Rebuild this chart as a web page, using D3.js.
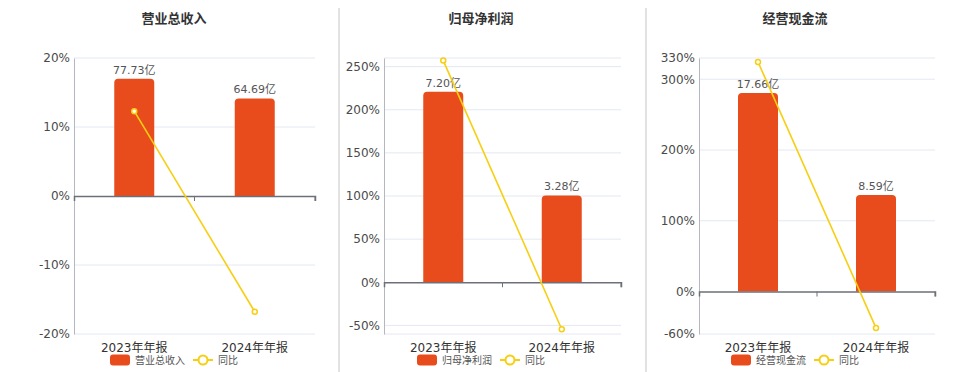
<!DOCTYPE html>
<html>
<head>
  <meta charset="utf-8">
  <script src="https://d3js.org/d3.v7.min.js"></script>
  <style>
    body { margin: 0; background: #fff; }
    text { font-family: "DejaVu Sans", "Noto Sans CJK SC", sans-serif; }
  </style>
</head>
<body>
  <script>
    // Data
    const categories = ["2023年年报", "2024年年报"];
    const titles = ["营业总收入", "归母净利润", "经营现金流"];
    const revenue = [77.73, 64.69];
    const netProfit = [7.20, 3.28];
    const cashFlow = [17.66, 8.59];
    const revenueYoy = [12.3, -16.78];
    const netProfitYoy = [257, -54.44];
    const cashFlowYoy = [324.5, -51.36];
    const revenueTicks = [-20, -10, 0, 10, 20];
    const netProfitTicks = [-50, 0, 50, 100, 150, 200, 250];
    const cashFlowTicks = [-60, 0, 100, 200, 300, 330];
    const revenueRange = [-20, 20];
    const netProfitRange = [-60, 260];
    const cashFlowRange = [-60, 330];

    const w = 960;
    const h = 372;
    const barColor = "#e84c1d";
    const lineColor = "#f7cf12";

    const panels = [
      { title: titles[0], bars: revenue, yoy: revenueYoy, ticks: revenueTicks, range: revenueRange, cx: 174, x0: 74, x1: 315 },
      { title: titles[1], bars: netProfit, yoy: netProfitYoy, ticks: netProfitTicks, range: netProfitRange, cx: 481, x0: 384, x1: 621 },
      { title: titles[2], bars: cashFlow, yoy: cashFlowYoy, ticks: cashFlowTicks, range: cashFlowRange, cx: 795, x0: 699, x1: 935 }
    ];
    const plotTop = 58, plotBottom = 334;

    const svg = d3.select("body")
      .append("svg")
      .attr("width", w)
      .attr("height", h);

    // separators between panels
    [339, 646].forEach(x => {
      svg.append("line")
        .attr("x1", x).attr("x2", x)
        .attr("y1", 8).attr("y2", h)
        .attr("stroke", "#cfcfcf")
        .attr("stroke-width", 1.2);
    });

    // rounded-top bar path
    function barPath(x, y, bw, bh, r) {
      r = Math.min(r, bh);
      return `M${x},${y + bh}V${y + r}Q${x},${y} ${x + r},${y}H${x + bw - r}Q${x + bw},${y} ${x + bw},${y + r}V${y + bh}Z`;
    }

    panels.forEach(p => {
      const g = svg.append("g");

      const xScale = d3.scaleBand()
        .domain(categories)
        .range([p.x0, p.x1]);

      const yScale = d3.scaleLinear()
        .domain(p.range)
        .range([plotBottom, plotTop]);

      // bar axis shares zero with the percent axis, tallest bar at 85%
      const barMax = d3.max(p.bars) / 0.85;
      const barScale = d3.scaleLinear()
        .domain([0, barMax])
        .range([yScale(0), plotTop]);

      // title
      g.append("text")
        .attr("x", p.cx)
        .attr("y", 23)
        .attr("text-anchor", "middle")
        .attr("font-size", 13)
        .attr("font-weight", "bold")
        .attr("fill", "#333")
        .text(p.title);

      // grid lines
      const gridVals = Array.from(new Set(p.ticks.concat(p.range)));
      g.selectAll(".grid")
        .data(gridVals.filter(d => d !== 0))
        .enter()
        .append("line")
        .attr("x1", p.x0).attr("x2", p.x1)
        .attr("y1", d => yScale(d)).attr("y2", d => yScale(d))
        .attr("stroke", "#e3e8f2")
        .attr("stroke-width", 1);

      // y axis
      const yAxis = d3.axisLeft(yScale)
        .tickValues(p.ticks)
        .tickFormat(d => d + "%")
        .tickSize(0)
        .tickPadding(4);
      const ya = g.append("g")
        .attr("transform", "translate(" + p.x0 + ",0)")
        .call(yAxis);
      ya.select(".domain").attr("stroke", "#b4b7bf").attr("stroke-width", 1);
      ya.selectAll("text")
        .attr("font-size", 12)
        .attr("fill", "#4a4a4a")
        .style("font-family", "DejaVu Sans, sans-serif");

      // bars
      g.selectAll(".bar")
        .data(p.bars)
        .enter()
        .append("path")
        .attr("class", "bar")
        .attr("d", (d, i) => {
          const bx = xScale(categories[i]) + xScale.bandwidth() / 2 - 20;
          const by = barScale(d);
          return barPath(bx, by, 40, barScale(0) - by, 4);
        })
        .attr("fill", barColor);

      // bar labels
      g.selectAll(".blabel")
        .data(p.bars)
        .enter()
        .append("text")
        .attr("x", (d, i) => xScale(categories[i]) + xScale.bandwidth() / 2)
        .attr("y", d => barScale(d) - 5)
        .attr("text-anchor", "middle")
        .attr("font-size", 11)
        .attr("fill", "#555")
        .text(d => d.toFixed(2) + "亿");

      // x axis at zero
      const xAxis = d3.axisBottom(xScale)
        .tickSize(5)
        .tickFormat("");
      const xa = g.append("g")
        .attr("transform", "translate(0," + yScale(0) + ")")
        .call(xAxis);
      xa.select(".domain").attr("stroke", "#6e7079").attr("stroke-width", 1.5);
      xa.selectAll(".tick").remove();
      // boundary ticks
      const bounds = [p.x0 + xScale.step(), p.x1];
      xa.selectAll(".btick")
        .data(bounds)
        .enter()
        .append("line")
        .attr("x1", d => d).attr("x2", d => d)
        .attr("y1", 0).attr("y2", 5)
        .attr("stroke", "#6e7079");

      // category labels
      g.selectAll(".xlabel")
        .data(categories)
        .enter()
        .append("text")
        .attr("x", d => xScale(d) + xScale.bandwidth() / 2)
        .attr("y", 352)
        .attr("text-anchor", "middle")
        .attr("font-size", 12)
        .attr("fill", "#333")
        .text(d => d);

      // yoy line
      const line = d3.line()
        .x((d, i) => xScale(categories[i]) + xScale.bandwidth() / 2)
        .y(d => yScale(d));
      g.append("path")
        .datum(p.yoy)
        .attr("d", line)
        .attr("fill", "none")
        .attr("stroke", lineColor)
        .attr("stroke-width", 1.6);
      g.selectAll(".pt")
        .data(p.yoy)
        .enter()
        .append("circle")
        .attr("cx", (d, i) => xScale(categories[i]) + xScale.bandwidth() / 2)
        .attr("cy", d => yScale(d))
        .attr("r", 2.5)
        .attr("fill", "#fff")
        .attr("stroke", lineColor)
        .attr("stroke-width", 1.5);

      // legend
      const lx = p.cx - 64;
      const ly = 360;
      const lg = g.append("g").attr("transform", "translate(" + lx + "," + ly + ")");
      lg.append("rect")
        .attr("x", 0).attr("y", -5.5)
        .attr("width", 20).attr("height", 11)
        .attr("rx", 3)
        .attr("fill", barColor);
      lg.append("text")
        .attr("x", 25).attr("y", 4)
        .attr("font-size", 10)
        .attr("fill", "#555")
        .text(p.title);
      lg.append("line")
        .attr("x1", 83).attr("x2", 103)
        .attr("y1", 0).attr("y2", 0)
        .attr("stroke", lineColor)
        .attr("stroke-width", 2);
      lg.append("circle")
        .attr("cx", 93).attr("cy", 0)
        .attr("r", 4.5)
        .attr("fill", "#fff")
        .attr("stroke", lineColor)
        .attr("stroke-width", 2);
      lg.append("text")
        .attr("x", 108).attr("y", 4)
        .attr("font-size", 10)
        .attr("fill", "#555")
        .text("同比");
    });
  </script>
</body>
</html>
